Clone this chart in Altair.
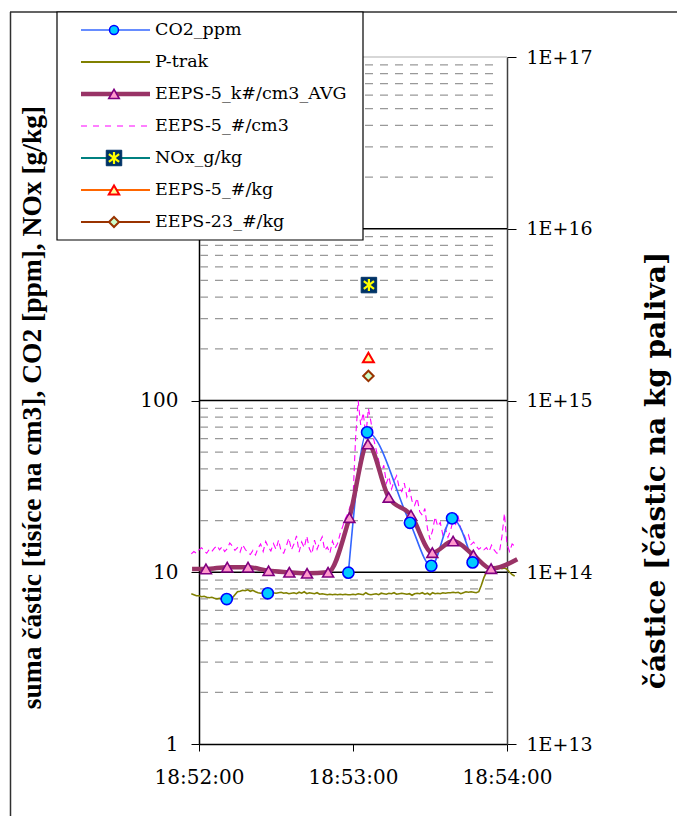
import json
import altair as alt
import pandas as pd

# ---------------- data ----------------
# time in seconds after 18:52:00
x_tick_values = [0, 60, 120]
x_tick_labels = ["18:52:00", "18:53:00", "18:54:00"]
left_tick_values = [1, 10, 100]
right_tick_values = [1e13, 1e14, 1e15, 1e16, 1e17]
right_tick_labels = ["1E+13", "1E+14", "1E+15", "1E+16", "1E+17"]

# P-trak, 1 s samples from t=-3 to t=123
ptrak_t = list(range(-3, 124))
ptrak_v = [
    7.5, 7.4, 7.3, 7.3, 7.2, 7.25, 7.15, 7.1, 7.15, 7.05,
    7.0, 7.05, 6.95, 7.0, 6.9, 6.95, 7.1, 7.4, 7.7, 7.75,
    7.85, 7.8, 7.9, 7.75, 7.85, 7.7, 7.6, 7.55, 7.6, 7.55,
    7.6, 7.75, 7.6, 7.55, 7.6, 7.65, 7.55, 7.6, 7.5, 7.55,
    7.6, 7.5, 7.65, 7.55, 7.7, 7.5, 7.6, 7.55, 7.5, 7.6,
    7.45, 7.5, 7.45, 7.4, 7.45, 7.4, 7.45, 7.4, 7.45, 7.4,
    7.45, 7.4, 7.4, 7.45, 7.4, 7.5, 7.45, 7.4, 7.6, 7.45,
    7.4, 7.45, 7.5, 7.4, 7.55, 7.5, 7.45, 7.55, 7.5, 7.6,
    7.45, 7.5, 7.55, 7.5, 7.45, 7.5, 7.35, 7.5, 7.55, 7.5,
    7.6, 7.45, 7.55, 7.4, 7.6, 7.5, 7.55, 7.5, 7.6, 7.55,
    7.6, 7.6, 7.65, 7.6, 7.65, 7.5, 7.6, 7.7, 7.65, 7.7,
    7.65, 7.6, 7.7, 8.4, 9.3, 10.0, 10.5, 10.7, 10.8, 10.6,
    10.7, 10.5, 10.6, 10.4, 10.0, 9.7, 9.5,
]

# EEPS-5 #/cm3 (thousands), 1 s samples from t=-3 to t=123
eeps_cm3_t = list(range(-3, 124))
eeps_cm3_v = [
    12.8, 13.2, 12.9, 13.5, 13.9, 13.3, 12.9, 13.6, 13.2, 13.8,
    14.3, 13.5, 14.1, 13.2, 13.7, 14.8, 14.2, 13.4, 13.9, 13.1,
    14.5, 13.6, 13.0, 12.7, 13.4, 12.6, 13.8, 14.6, 13.2, 15.1,
    14.0, 13.3, 14.7, 13.6, 15.4, 13.2, 12.9, 14.2, 15.8, 13.5,
    14.6, 16.3, 13.1, 15.0, 13.9, 16.2, 13.7, 12.8, 15.4, 13.6,
    14.9, 16.1, 13.4, 14.0, 12.9, 15.2, 13.8, 14.7, 16.8, 18.5,
    20.5, 22.0, 24.5, 27.0, 60.0, 100.0, 72.0, 85.0, 62.0, 90.0,
    75.0, 60.0, 52.0, 45.0, 38.0, 42.0, 33.0, 36.0, 30.5, 34.0,
    36.5, 31.0, 29.5, 33.0, 27.5, 30.5, 26.0, 24.5, 27.0, 22.5,
    21.5, 23.5, 18.0, 15.5, 17.5, 21.0, 18.5, 19.5, 16.5, 18.0,
    16.0, 17.5, 20.0, 19.0, 21.0, 18.0, 17.0, 15.5, 16.5, 14.5,
    15.0, 14.2, 13.6, 14.0, 13.5, 13.9, 13.2, 14.4, 13.5, 12.9,
    13.0, 16.0, 22.0, 14.5, 13.2, 14.6, 14.2,
]

# EEPS-5 k#/cm3 AVG (smoothed line, markers)
eeps_avg_t = [-2.7, 2.7, 11.0, 19.1, 27.1, 35.2, 42.1, 50.3, 58.6, 65.8,
              73.9, 82.6, 90.9, 99.0, 106.9, 113.8, 124.0]
eeps_avg_v = [10.45, 10.45, 10.7, 10.7, 10.2, 10.0, 9.86, 10.0, 20.8, 55.8,
              27.3, 21.5, 13.0, 15.2, 12.6, 10.5, 11.9]
eeps_avg_marker = [False] + [True] * 15 + [False]

# CO2 ppm
co2_t = [10.8, 26.8, 58.2, 65.5, 82.2, 90.5, 98.6, 106.6]
co2_v = [6.98, 7.54, 9.94, 65.3, 19.4, 10.9, 20.6, 11.4]
co2_connected = [False, False, True, True, True, True, True, True]

# single-value series
nox_t, nox_v = [66.2], [470.0]
eeps5kg_t, eeps5kg_v = [66.0], [1.78e15]
eeps23kg_t, eeps23kg_v = [66.0], [1.39e15]

legend_labels = ["CO2_ppm", "P-trak", "EEPS-5_k#/cm3_AVG", "EEPS-5_#/cm3",
                 "NOx_g/kg", "EEPS-5_#/kg", "EEPS-23_#/kg"]

left_title = "suma částic [tisíce na cm3], CO2 [ppm], NOx [g/kg]"
right_title = "částice [částic na kg paliva]"

# grid levels (axis structure)
decades = [1, 10, 100, 1000]
minor_levels = [d * k for d in decades for k in range(2, 10)]
major_levels = [10, 100, 1000]

# ---------------- styles ----------------
W, H = 308, 687
SERIF = "DejaVu Serif"
C_CO2_LINE, C_CO2_FILL, C_CO2_EDGE = "#3366ff", "#00ccff", "#0000ff"
C_PTRAK = "#808000"
C_AVG, C_AVG_FILL, C_AVG_EDGE = "#993366", "#ff99cc", "#800080"
C_CM3 = "#ff00ff"
C_NOX_LINE, C_NOX_BOX, C_NOX_STAR = "#008080", "#003366", "#ffff00"
C_5KG_LINE, C_5KG_EDGE, C_5KG_FILL = "#ff6600", "#ff0000", "#ffff99"
C_23KG_LINE, C_23KG_FILL = "#993300", "#ccffcc"
STAR = "M0,-0.78L0,0.78M-0.66,-0.5L0.66,0.5M-0.66,0.5L0.66,-0.5"

# ---------------- encodings ----------------
x_enc = alt.X(
    "t:Q",
    scale=alt.Scale(domain=[0, 120], nice=False, zero=False),
    axis=alt.Axis(
        values=x_tick_values,
        labelExpr=f"{json.dumps(x_tick_labels)}[round(datum.value/60)]",
        title=None, grid=False, tickSize=7, tickColor="black",
        domainColor="black", domainWidth=1.5, labelPadding=16,
        labelFlush=False, labelOverlap=False, labelAlign="center",
        labelFont=SERIF, labelFontSize=20, labelColor="black", zindex=0,
    ),
)

y_left = alt.Y(
    "v:Q",
    scale=alt.Scale(type="log", domain=[1, 10000], nice=False),
    axis=alt.Axis(
        orient="left", values=left_tick_values, format="d", grid=False,
        tickSize=8, tickColor="black", domainColor="black", domainWidth=1.5,
        labelPadding=13, labelFont=SERIF, labelFontSize=20, labelColor="black",
        labelBaseline="middle", labelFlush=False, labelOverlap=False,
        title=left_title, titleFont="Liberation Serif", titleFontSize=27.5,
        titleFontWeight="bold", titleColor="black", titleAngle=270,
        titleAlign="center", titleBaseline="middle", titleX=-167, titleY=350,
        zindex=0,
    ),
)

y_right = alt.Y(
    "v:Q",
    scale=alt.Scale(type="log", domain=[1e13, 1e17], nice=False),
    axis=alt.Axis(
        orient="right", values=right_tick_values,
        labelExpr=f"{json.dumps(right_tick_labels)}[round(log(datum.value)/LN10) - 13]",
        grid=False, tickSize=9, tickColor="black", domainColor="#404040",
        domainWidth=1.5, labelPadding=10, labelFont=SERIF, labelFontSize=19,
        labelColor="black", labelBaseline="middle", labelFlush=False,
        labelOverlap=False,
        title=right_title, titleFont=SERIF, titleFontSize=28,
        titleFontWeight="bold", titleColor="black", titleAngle=270,
        titleAlign="center", titleBaseline="middle", titleX=149, titleY=413,
        zindex=0,
    ),
)

# ---------------- left-axis layers ----------------
minor_df = pd.DataFrame({"v": minor_levels})
major_df = pd.DataFrame({"v": major_levels})
top_df = pd.DataFrame({"v": [10000]})

grid_minor = alt.Chart(minor_df).mark_rule(
    color="#999999", strokeWidth=1.3, strokeDash=[8, 7]
).encode(y=y_left, x=alt.value(1), x2=alt.value(W - 8))

grid_major = alt.Chart(major_df).mark_rule(color="black", strokeWidth=1.3).encode(
    y=y_left, x=alt.value(0), x2=alt.value(W)
)
grid_top = alt.Chart(top_df).mark_rule(color="#b0b0b0", strokeWidth=1.2).encode(
    y=y_left, x=alt.value(0), x2=alt.value(W)
)

ptrak_df = pd.DataFrame({"t": ptrak_t, "v": ptrak_v})
ptrak = alt.Chart(ptrak_df).mark_line(color=C_PTRAK, strokeWidth=1.6).encode(
    x=x_enc, y=y_left
)

cm3_df = pd.DataFrame({"t": eeps_cm3_t, "v": eeps_cm3_v})
cm3 = alt.Chart(cm3_df).mark_line(
    color=C_CM3, strokeWidth=1.1, strokeDash=[6, 4]
).encode(x=x_enc, y=y_left)

avg_df = pd.DataFrame({"t": eeps_avg_t, "v": eeps_avg_v, "m": eeps_avg_marker})
avg_line = alt.Chart(avg_df).mark_line(
    color=C_AVG, strokeWidth=4.5, interpolate="monotone"
).encode(x=x_enc, y=y_left)
avg_pts = alt.Chart(avg_df).transform_filter("datum.m").mark_point(
    shape="triangle-up", size=120, filled=True, fill=C_AVG_FILL,
    stroke=C_AVG_EDGE, strokeWidth=1.6, opacity=1
).encode(x=x_enc, y=y_left)

co2_df = pd.DataFrame({"t": co2_t, "v": co2_v, "c": co2_connected})
co2_line = alt.Chart(co2_df).transform_filter("datum.c").mark_line(
    color=C_CO2_LINE, strokeWidth=1.6, interpolate="monotone"
).encode(x=x_enc, y=y_left)
co2_pts = alt.Chart(co2_df).mark_point(
    shape="circle", size=125, filled=True, fill=C_CO2_FILL,
    stroke=C_CO2_EDGE, strokeWidth=1.6, opacity=1
).encode(x=x_enc, y=y_left)

nox_df = pd.DataFrame({"t": nox_t, "v": nox_v})
nox_box = alt.Chart(nox_df).mark_point(
    shape="square", size=240, filled=True, fill=C_NOX_BOX, stroke=C_NOX_BOX,
    strokeWidth=1, opacity=1
).encode(x=x_enc, y=y_left)
nox_star = alt.Chart(nox_df).mark_point(
    shape=STAR, size=240, filled=False, stroke=C_NOX_STAR, strokeWidth=2.2,
    opacity=1
).encode(x=x_enc, y=y_left)

left_group = alt.layer(
    grid_minor, grid_top, grid_major, ptrak, cm3, co2_line, avg_line, avg_pts,
    co2_pts, nox_box, nox_star
)

# ---------------- right-axis layers ----------------
kg5_df = pd.DataFrame({"t": eeps5kg_t, "v": eeps5kg_v})
kg23_df = pd.DataFrame({"t": eeps23kg_t, "v": eeps23kg_v})
kg5 = alt.Chart(kg5_df).mark_point(
    shape="triangle-up", size=120, filled=True, fill=C_5KG_FILL,
    stroke=C_5KG_EDGE, strokeWidth=2, opacity=1
).encode(x=x_enc, y=y_right)
kg23 = alt.Chart(kg23_df).mark_point(
    shape="diamond", size=110, filled=True, fill=C_23KG_FILL,
    stroke=C_23KG_LINE, strokeWidth=2, opacity=1
).encode(x=x_enc, y=y_right)
right_group = alt.layer(kg5, kg23)

# ---------------- legend & frame ----------------
leg_scale = alt.Scale(domain=[0, 6], range=[-27, 165], nice=False, zero=False)
leg_y = alt.Y("row:Q", scale=leg_scale, axis=None)
LX0, LX1, LM, LT = -118, -49, -85, -44


def row_df(i):
    return pd.DataFrame({"row": [i], "label": [legend_labels[i]]})


def leg_line(i, color, width, dash=None):
    kw = dict(color=color, strokeWidth=width)
    if dash is not None:
        kw["strokeDash"] = dash
    return alt.Chart(row_df(i)).mark_rule(**kw).encode(
        x=alt.value(LX0), x2=alt.value(LX1), y=leg_y
    )


def leg_mark(i, **kw):
    return alt.Chart(row_df(i)).mark_point(opacity=1, **kw).encode(
        x=alt.value(LM), y=leg_y
    )


frame_df = pd.DataFrame({"k": [0]})
frame_left = alt.Chart(frame_df).mark_rule(color="#303030", strokeWidth=1.5).encode(
    x=alt.value(-188.5), y=alt.value(-45), y2=alt.value(760)
)
frame_top = alt.Chart(frame_df).mark_rule(color="#303030", strokeWidth=1.5).encode(
    x=alt.value(-189), x2=alt.value(480), y=alt.value(-45)
)
legend_box = alt.Chart(frame_df).mark_rect(
    fill="white", stroke="black", strokeWidth=1.2
).encode(x=alt.value(-142), x2=alt.value(164), y=alt.value(-45), y2=alt.value(183))

leg_text = alt.Chart(pd.DataFrame({"row": list(range(7)), "label": legend_labels})).mark_text(
    align="left", baseline="middle", font=SERIF, fontSize=17.5, color="black"
).encode(x=alt.value(LT), y=leg_y, text="label:N")

legend_group = alt.layer(
    frame_left, frame_top, legend_box,
    leg_line(0, C_CO2_LINE, 1.6),
    leg_mark(0, shape="circle", size=80, filled=True, fill=C_CO2_FILL,
             stroke=C_CO2_EDGE, strokeWidth=1.5),
    leg_line(1, C_PTRAK, 1.8),
    leg_line(2, C_AVG, 4.5),
    leg_mark(2, shape="triangle-up", size=110, filled=True, fill=C_AVG_FILL,
             stroke=C_AVG_EDGE, strokeWidth=1.6),
    leg_line(3, C_CM3, 1.1, [6, 6]),
    leg_line(4, C_NOX_LINE, 1.8),
    leg_mark(4, shape="square", size=240, filled=True, fill=C_NOX_BOX,
             stroke=C_NOX_BOX, strokeWidth=1),
    leg_mark(4, shape=STAR, size=240, filled=False, stroke=C_NOX_STAR,
             strokeWidth=2.2),
    leg_line(5, C_5KG_LINE, 1.8),
    leg_mark(5, shape="triangle-up", size=110, filled=True, fill=C_5KG_FILL,
             stroke=C_5KG_EDGE, strokeWidth=2),
    leg_line(6, C_23KG_LINE, 1.8),
    leg_mark(6, shape="diamond", size=100, filled=True, fill=C_23KG_FILL,
             stroke=C_23KG_LINE, strokeWidth=2),
    leg_text,
)

chart = (
    alt.layer(left_group, right_group, legend_group)
    .resolve_scale(y="independent")
    .properties(
        width=W, height=H,
        autosize=alt.AutoSizeParams(type="none"),
        padding={"left": 199, "top": 57, "right": 170, "bottom": 72},
        background="white",
    )
    .configure_view(stroke=None)
)

chart.save("out.html", embed_options={"renderer": "svg", "actions": False})
